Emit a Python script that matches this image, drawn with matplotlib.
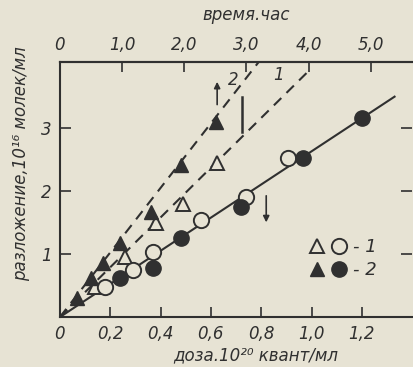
import matplotlib
matplotlib.use('Agg')
import matplotlib.pyplot as plt
from matplotlib.legend_handler import HandlerTuple
from matplotlib.lines import Line2D

# --- data ---
tri1_x = [0.14, 0.26, 0.38, 0.49, 0.625]
tri1_y = [0.48, 0.95, 1.49, 1.80, 2.44]
tri2_x = [0.07, 0.125, 0.17, 0.24, 0.364, 0.48, 0.62]
tri2_y = [0.30, 0.62, 0.86, 1.17, 1.67, 2.41, 3.10]
circ1_x = [0.18, 0.29, 0.37, 0.56, 0.74, 0.905]
circ1_y = [0.48, 0.75, 1.03, 1.54, 1.90, 2.52]
circ2_x = [0.24, 0.37, 0.48, 0.72, 0.965, 1.20]
circ2_y = [0.62, 0.78, 1.25, 1.75, 2.52, 3.16]

line1_x = [0.0, 0.984]          # dashed, curve 1
line1_y = [0.0, 3.89]
line2_x = [0.0, 0.79]           # dashed, curve 2
line2_y = [0.0, 4.05]
fit_x = [0.0, 1.33]             # solid line through circles
fit_y = [0.0, 3.50]

# arrows: (x, y_from, y_to)
arrows = [(0.625, 3.33, 3.78), (0.82, 1.97, 1.46)]
# plain vertical mark near curve 1
mark_x = [0.724, 0.724]
mark_y = [3.50, 2.94]

x_ticks = [0, 0.2, 0.4, 0.6, 0.8, 1.0, 1.2]
x_labels = ['0', '0,2', '0,4', '0,6', '0,8', '1,0', '1,2']
t_ticks = [0, 1, 2, 3, 4, 5]
t_labels = ['0', '1,0', '2,0', '3,0', '4,0', '5,0']
y_ticks = [1, 2, 3]
y_labels = ['1', '2', '3']
hour = 0.247   # dose units per hour

bg = '#e7e3d4'
ink = '#303030'

plt.rcParams['font.family'] = ['DejaVu Sans']
plt.rcParams['font.style'] = 'italic'

fig = plt.figure(figsize=(4.13, 3.67), dpi=100, facecolor=bg)
ax = fig.add_axes([0.145, 0.136, 0.853, 0.695], facecolor=bg)

ax.plot(line1_x, line1_y, '--', color=ink, lw=1.5, dashes=(5, 3.5))
ax.plot(line2_x, line2_y, '--', color=ink, lw=1.5, dashes=(5, 3.5))
ax.plot(fit_x, fit_y, '-', color=ink, lw=1.5)

ms = 11
mt = 10
ax.plot(tri1_x, tri1_y, '^', ms=mt, mfc=bg, mec=ink, mew=1.4, ls='none', zorder=3)
ax.plot(tri2_x, tri2_y, '^', ms=mt, mfc=ink, mec=ink, ls='none', zorder=3)
ax.plot(circ1_x, circ1_y, 'o', ms=ms, mfc=bg, mec=ink, mew=1.4, ls='none', zorder=3)
ax.plot(circ2_x, circ2_y, 'o', ms=ms, mfc=ink, mec=ink, ls='none', zorder=3)

for xa, y0, y1 in arrows:
    ax.annotate('', xy=(xa, y1), xytext=(xa, y0),
                arrowprops=dict(arrowstyle='-|>', color=ink, lw=1.2,
                                mutation_scale=9))
ax.plot(mark_x, mark_y, '-', color=ink, lw=1.8)

ax.text(0.69, 3.76, '2', fontsize=12, color=ink, ha='center', va='center')
ax.text(0.87, 3.85, '1', fontsize=12, color=ink, ha='center', va='center')

ax.set_xlim(0, 1.4)
ax.set_ylim(0, 4.05)

ax.set_xticks(x_ticks)
ax.set_xticklabels(x_labels)
ax.set_yticks(y_ticks)
ax.set_yticklabels(y_labels)
ax.tick_params(axis='both', direction='in', length=7, width=1.2, colors=ink,
               labelsize=12, pad=6)
ax.tick_params(axis='y', right=True, length=8)
for s in ['left', 'bottom', 'top']:
    ax.spines[s].set_color(ink)
    ax.spines[s].set_linewidth(1.5)
ax.spines['right'].set_visible(False)

top = ax.secondary_xaxis('top', functions=(lambda d: d / hour, lambda t: t * hour))
top.set_xticks(t_ticks)
top.set_xticklabels(t_labels)
top.tick_params(direction='in', length=7, width=1.2, colors=ink, labelsize=12, pad=6)
top.spines['top'].set_color(ink)
top.spines['top'].set_linewidth(1.5)
ax.text(0.53, 1.15, 'время.час', transform=ax.transAxes, fontsize=12,
        color=ink, ha='center', va='bottom')

ax.set_xlabel('доза.10²⁰ квант/мл', fontsize=12, color=ink)
ax.xaxis.set_label_coords(0.555, -0.115)
ax.set_ylabel('разложение,10¹⁶ молек/мл', fontsize=12, color=ink)
ax.yaxis.set_label_coords(-0.085, 0.6)

h1 = (Line2D([], [], marker='^', ms=mt, mfc=bg, mec=ink, mew=1.4, ls='none'),
      Line2D([], [], marker='o', ms=ms, mfc=bg, mec=ink, mew=1.4, ls='none'))
h2 = (Line2D([], [], marker='^', ms=mt, mfc=ink, mec=ink, ls='none'),
      Line2D([], [], marker='o', ms=ms, mfc=ink, mec=ink, ls='none'))
leg = ax.legend([h1, h2], ['- 1', '- 2'],
                handler_map={tuple: HandlerTuple(ndivide=None, pad=0.2)},
                loc='lower right', bbox_to_anchor=(0.92, 0.12), frameon=False,
                fontsize=13, handlelength=2.2, handletextpad=0.3,
                labelspacing=0.3, borderaxespad=0)
for t in leg.get_texts():
    t.set_color(ink)

fig.savefig('out.png', dpi=100, facecolor=bg)
